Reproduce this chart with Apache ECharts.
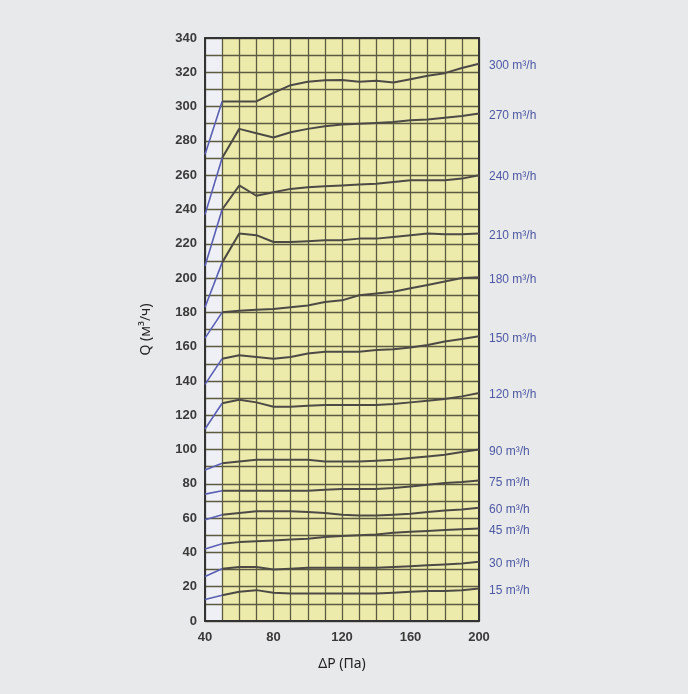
<!DOCTYPE html>
<html>
<head>
<meta charset="utf-8">
<script src="https://cdn.jsdelivr.net/npm/echarts@6/dist/echarts.min.js"></script>
<style>
html,body{margin:0;padding:0;background:#e8e9eb;}
#chart{width:688px;height:694px;}
</style>
</head>
<body>
<div id="chart"></div>
<script>
// ΔP values (Pa)
const pressure = [40, 50, 60, 70, 80, 90, 100, 110, 120, 130, 140, 150, 160, 170, 180, 190, 200];
// Q values (m³/h) for each nominal flow curve
const q300 = [272, 303, 303, 303, 308, 312.5, 314.5, 315.3, 315.5, 314.5, 315, 314, 316, 318, 319.5, 322.5, 325];
const q270 = [237, 270, 287, 284.5, 282, 285, 287, 288.5, 289.5, 290, 290.5, 291, 292, 292.5, 293.5, 294.5, 296];
const q240 = [207, 240, 254, 248, 250, 252, 253, 253.5, 254, 254.5, 255, 256, 257, 257, 257, 258, 260];
const q210 = [183, 209, 226, 225, 221, 221, 221.5, 222, 222, 223, 223, 224, 225, 226, 225.5, 225.5, 226];
const q180 = [165, 180, 181, 181.5, 182, 183, 184, 186, 187, 190, 191, 192, 194, 196, 198, 200, 200.5];
const q150 = [138, 153, 155, 154, 153, 154, 156, 157, 157, 157, 158, 158.5, 159.5, 161, 163, 164.5, 166];
const q120 = [112, 127, 129, 127.5, 125, 125, 125.5, 126, 126, 126, 126, 126.5, 127.5, 128.5, 129.5, 131, 133];
const q90 = [88, 92, 93, 94, 94, 94, 94, 93, 93, 93, 93.5, 94, 95, 96, 97, 98.5, 100];
const q75 = [74, 76, 76, 76, 76, 76, 76, 76.5, 77, 77, 77, 77.5, 78.5, 79.5, 80.5, 81, 82];
const q60 = [59, 62, 63, 64, 64, 64, 63.5, 63, 62, 61.5, 61.5, 62, 62.5, 63.5, 64.5, 65, 66];
const q45 = [42, 45, 46, 46.5, 47, 47.5, 48, 49, 49.5, 50, 50.5, 51.5, 52, 52.5, 53, 53.5, 54];
const q30 = [26, 30.5, 31.5, 31.5, 30, 30.5, 31, 31, 31, 31, 31, 31.5, 32, 32.5, 33, 33.5, 34.5];
const q15 = [12.5, 15, 17, 18, 16.5, 16, 16, 16, 16, 16, 16, 16.5, 17, 17.5, 17.5, 18, 19];
const curveNames = ['300 m³/h', '270 m³/h', '240 m³/h', '210 m³/h', '180 m³/h', '150 m³/h', '120 m³/h', '90 m³/h', '75 m³/h', '60 m³/h', '45 m³/h', '30 m³/h', '15 m³/h'];
const curves = [q300, q270, q240, q210, q180, q150, q120, q90, q75, q60, q45, q30, q15];
const xTickLabels = [40, 80, 120, 160, 200];
const yTickLabels = [0, 20, 40, 60, 80, 100, 120, 140, 160, 180, 200, 220, 240, 260, 280, 300, 320, 340];
const yellowStart = 50;

const chart = echarts.init(document.getElementById('chart'));
const series = [];
series.push({
  type: 'line', data: [], z: 1, silent: true,
  markArea: {
    silent: true,
    itemStyle: { color: '#ecebab' },
    data: [[{ xAxis: yellowStart }, { xAxis: 200 }]]
  }
});
curves.forEach((vals, i) => {
  const pts = pressure.map((p, j) => [p, vals[j]]);
  series.push({
    type: 'line', name: curveNames[i] + '_a', z: 5, symbol: 'none', silent: true,
    data: pts.filter(d => d[0] <= yellowStart),
    lineStyle: { color: '#5a5fb4', width: 1.6 }
  });
  series.push({
    type: 'line', name: curveNames[i], z: 5, symbol: 'none', silent: true,
    data: pts.filter(d => d[0] >= yellowStart),
    lineStyle: { color: '#4d4a46', width: 2 },
    endLabel: {
      show: true, formatter: '{a}', distance: 10, offset: [0, 2],
      color: '#4e58a4', fontSize: 12, fontFamily: 'Liberation Sans'
    }
  });
});

chart.setOption({
  backgroundColor: '#e8e9eb',
  animation: false,
  grid: { left: 205, right: 209, top: 38, bottom: 73, show: true, backgroundColor: '#eef0f6', borderWidth: 0 },
  xAxis: [{
    type: 'value', min: 40, max: 200, interval: 10, z: 3,
    name: 'ΔP (Па)', nameLocation: 'middle', nameGap: 36,
    nameTextStyle: { fontFamily: 'Noto Sans', fontSize: 14, color: '#222' },
    axisLine: { show: true, lineStyle: { color: '#333', width: 2 } },
    axisTick: { show: false },
    axisLabel: {
      margin: 10, color: '#3a3a3a', fontSize: 13, fontWeight: 'bold', fontFamily: 'Liberation Sans',
      formatter: v => xTickLabels.includes(v) ? String(v) : ''
    },
    splitLine: { show: true, lineStyle: { color: '#5c5a40', width: 1.3 } }
  }, {
    type: 'value', min: 40, max: 200, position: 'top', z: 3,
    axisLine: { show: true, onZero: false, lineStyle: { color: '#333', width: 2 } },
    axisTick: { show: false }, axisLabel: { show: false }, splitLine: { show: false }
  }],
  yAxis: [{
    type: 'value', min: 0, max: 340, interval: 10, z: 3,
    name: 'Q (м³/ч)', nameLocation: 'middle', nameGap: 52, nameRotate: 90,
    nameTextStyle: { fontFamily: 'Noto Sans', fontSize: 14, color: '#222' },
    axisLine: { show: true, lineStyle: { color: '#333', width: 2 } },
    axisTick: { show: false },
    axisLabel: {
      margin: 8, color: '#3a3a3a', fontSize: 13, fontWeight: 'bold', fontFamily: 'Liberation Sans',
      formatter: v => yTickLabels.includes(v) ? String(v) : ''
    },
    splitLine: { show: true, lineStyle: { color: '#5c5a40', width: 1.3 } }
  }, {
    type: 'value', min: 0, max: 340, position: 'right', z: 3,
    axisLine: { show: true, onZero: false, lineStyle: { color: '#333', width: 2 } },
    axisTick: { show: false }, axisLabel: { show: false }, splitLine: { show: false }
  }],
  series: series
});
</script>
</body>
</html>
